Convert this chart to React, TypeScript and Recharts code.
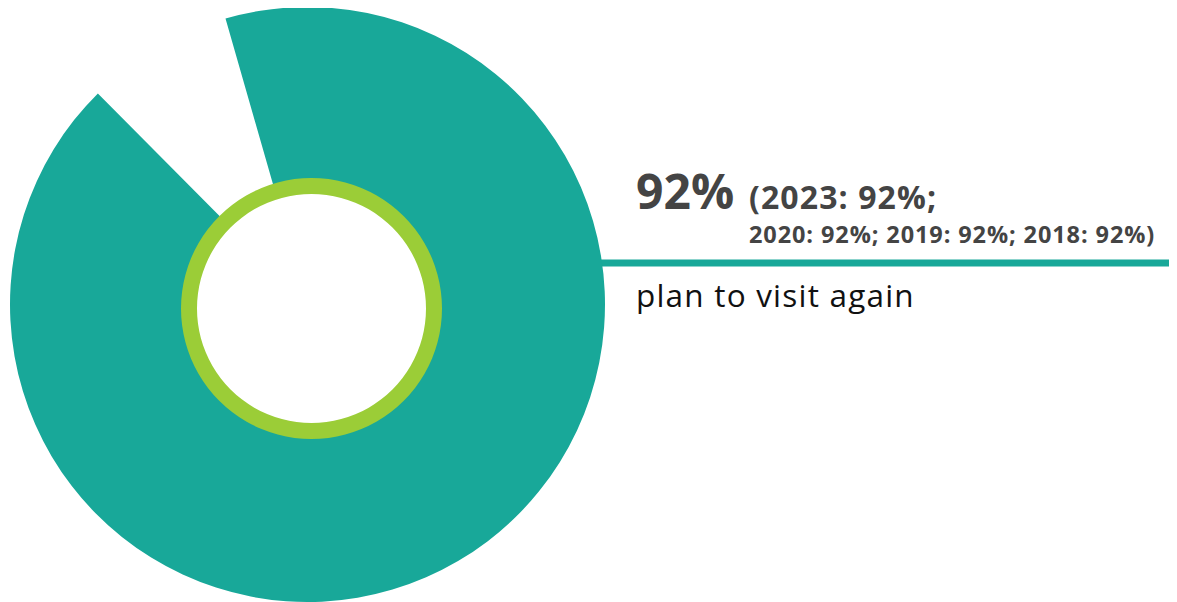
import { PieChart, Pie, Cell, Customized } from "recharts";

const shares = [
  { name: "plan to visit again", value: 92 },
  { name: "other", value: 8 },
];
const ring = [{ name: "ring", value: 100 }];
const headline = 92;
const pastYears = ["2023", "2020", "2019", "2018"];
const pastValues = [92, 92, 92, 92];
const caption = "plan to visit again";

const TEAL = "#18a899";
const GREEN = "#9bcd37";
const FONT = "'Open Sans', sans-serif";

function TextBlock() {
  const first = `(${pastYears[0]}: ${pastValues[0]}%;`;
  const rest =
    pastYears
      .slice(1)
      .map((y, i) => `${y}: ${pastValues[i + 1]}%`)
      .join("; ") + ")";
  return (
    <g fontFamily={FONT}>
      <text x={628} y={201} fontSize={48} fontWeight={700} fill="#444">
        {headline}%
      </text>
      <text x={741} y={201} fontSize={32} fontWeight={700} fill="#444" letterSpacing={1.1}>
        {first}
      </text>
      <text x={741} y={235} fontSize={23.5} fontWeight={700} fill="#444" letterSpacing={0.9}>
        {rest}
      </text>
      <rect x={592} y={251.5} width={573} height={7} fill={TEAL} />
      <text x={628} y={299} fontSize={31.5} fill="#111" letterSpacing={1.2}>
        {caption}
      </text>
    </g>
  );
}

export default function App() {
  return (
    <PieChart width={1161} height={594} margin={{ top: 0, right: 0, bottom: 0, left: 0 }}>
      <Pie
        data={shares}
        dataKey="value"
        nameKey="name"
        cx={299.5}
        cy={296.5}
        innerRadius={122}
        outerRadius={297.5}
        startAngle={106}
        endAngle={-254}
        stroke="none"
        isAnimationActive={false}>
        {shares.map((_, i) => (
          <Cell key={`c-${i}`} fill={i === 0 ? TEAL : "transparent"} />
        ))}
      </Pie>
      <Pie
        data={ring}
        dataKey="value"
        cx={303.5}
        cy={300.5}
        innerRadius={114.5}
        outerRadius={130.5}
        startAngle={90}
        endAngle={-270}
        fill={GREEN}
        stroke="none"
        isAnimationActive={false}
      />
      <Customized component={TextBlock} />
    </PieChart>
  );
}
